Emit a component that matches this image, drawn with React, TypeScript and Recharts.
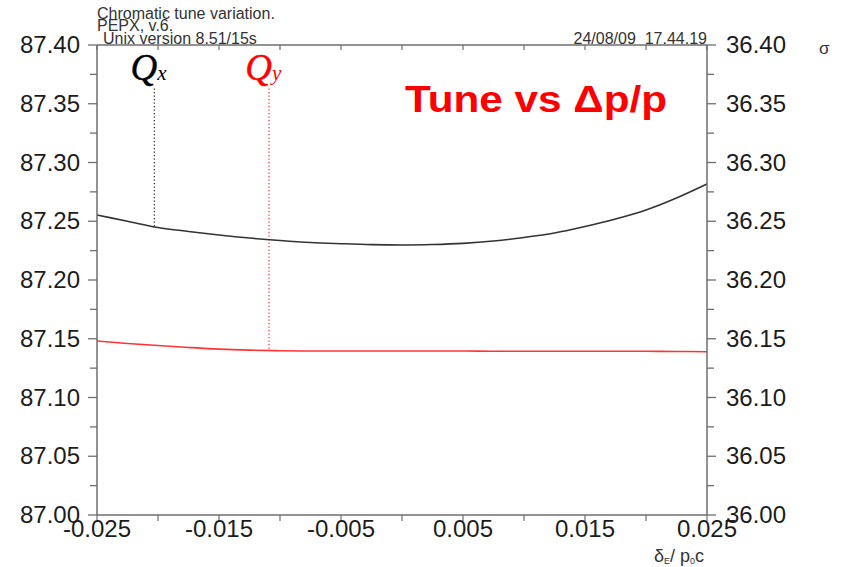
import React from "react";
import { LineChart, Line, XAxis, YAxis, ReferenceLine } from "recharts";

// momentum deviation, 0.0025 steps
const DP = [
  -0.025, -0.0225, -0.02, -0.0175, -0.015, -0.0125, -0.01, -0.0075, -0.005, -0.0025,
  0, 0.0025, 0.005, 0.0075, 0.01, 0.0125, 0.015, 0.0175, 0.02, 0.0225, 0.025,
];
// horizontal tune (left scale)
const QX = [
  87.2553, 87.25, 87.2447, 87.2413, 87.2383, 87.2357, 87.2336, 87.2319, 87.2309, 87.2301,
  87.2298, 87.2302, 87.2312, 87.2332, 87.2362, 87.24, 87.2455, 87.2519, 87.2596, 87.2698, 87.2817,
];
// vertical tune (right scale)
const QY = [
  36.1481, 36.146, 36.1442, 36.1426, 36.1412, 36.1403, 36.1398, 36.1396, 36.1396, 36.1396,
  36.1396, 36.1396, 36.1396, 36.1394, 36.1394, 36.1394, 36.1394, 36.1394, 36.1393, 36.1392, 36.139,
];

const X_TICKS = [-0.025, -0.02, -0.015, -0.01, -0.005, 0, 0.005, 0.01, 0.015, 0.02, 0.025];
const LEFT_TICKS = [
  87.0, 87.025, 87.05, 87.075, 87.1, 87.125, 87.15, 87.175, 87.2,
  87.225, 87.25, 87.275, 87.3, 87.325, 87.35, 87.375, 87.4,
];
const RIGHT_TICKS = [
  36.0, 36.025, 36.05, 36.075, 36.1, 36.125, 36.15, 36.175, 36.2,
  36.225, 36.25, 36.275, 36.3, 36.325, 36.35, 36.375, 36.4,
];

// marker positions for the Qx / Qy working point
const QX_MARK = -0.0203;
const QY_MARK = -0.0109;
const MARK_TOP = 87.363;
const MARK_TOP_R = 36.363;

const data = DP.map((dp, i) => ({ dp, qx: QX[i], qy: QY[i] }));

const FONT = '"Liberation Sans", Arial, Helvetica, sans-serif';
const AXIS = "#6e6e6e";
const INK = "#1c1c1c";

const LeftTick = (props: any) => {
  const { x, y, payload, index } = props;
  const major = index % 2 === 0;
  return (
    <g>
      <line x1={x} x2={x - (major ? 9 : 7)} y1={y} y2={y} stroke={AXIS} strokeWidth={1.3} />
      {major && (
        <text x={x - 17} y={y + 8} textAnchor="end" fontFamily={FONT} fontSize={24} fill={INK}>
          {payload.value.toFixed(2)}
        </text>
      )}
    </g>
  );
};

const RightTick = (props: any) => {
  const { x, y, payload, index } = props;
  const major = index % 2 === 0;
  return (
    <g>
      <line x1={x} x2={x + (major ? 9 : 7)} y1={y} y2={y} stroke={AXIS} strokeWidth={1.3} />
      {major && (
        <text x={x + 19} y={y + 8} textAnchor="start" fontFamily={FONT} fontSize={24} fill={INK}>
          {payload.value.toFixed(2)}
        </text>
      )}
    </g>
  );
};

const BottomTick = (props: any) => {
  const { x, y, payload, index } = props;
  const labelled = index % 2 === 0;
  return (
    <g>
      <line x1={x} x2={x} y1={y} y2={y + 6} stroke={AXIS} strokeWidth={1.2} />
      {labelled && (
        <text x={x} y={y + 22} textAnchor="middle" fontFamily={FONT} fontSize={24} fill={INK}>
          {payload.value.toFixed(3)}
        </text>
      )}
    </g>
  );
};

const TopTick = (props: any) => {
  const { x, y } = props;
  return <line x1={x} x2={x} y1={y} y2={y + 5} stroke={AXIS} strokeWidth={1.2} />;
};

const qLabel = (sub: string, color: string) => (props: any) => {
  const vb = props.viewBox;
  return (
    <g>
      <text
        x={vb.x + 3}
        y={vb.y - 8}
        textAnchor="end"
        fontFamily='"Liberation Serif", "Times New Roman", serif'
        fontStyle="italic"
        fontSize={37}
        fill={color}
        stroke={color}
        strokeWidth={0.4}
      >
        Q
      </text>
      <text
        x={vb.x + 3}
        y={vb.y - 8}
        fontFamily='"Liberation Serif", "Times New Roman", serif'
        fontStyle="italic"
        fontSize={21}
        fill={color}
      >
        {sub}
      </text>
    </g>
  );
};

export default function App() {
  return (
    <div style={{ position: "absolute", left: 0, top: 0, width: 842, height: 567, background: "#fff" }}>
      <LineChart width={842} height={567} data={data} margin={{ top: 0, right: 0, bottom: 0, left: 0 }}>
        <XAxis
          dataKey="dp"
          type="number"
          domain={[-0.025, 0.025]}
          ticks={X_TICKS}
          interval={0}
          height={52}
          tickSize={0}
          tickMargin={0}
          tickLine={false}
          axisLine={{ stroke: AXIS, strokeWidth: 1.5 }}
          tick={<BottomTick />}
        />
        <XAxis
          xAxisId="top"
          orientation="top"
          dataKey="dp"
          type="number"
          domain={[-0.025, 0.025]}
          ticks={X_TICKS}
          interval={0}
          height={45}
          tickSize={0}
          tickMargin={0}
          tickLine={false}
          axisLine={{ stroke: AXIS, strokeWidth: 1.5 }}
          tick={<TopTick />}
        />
        <YAxis
          yAxisId="left"
          type="number"
          domain={[87.0, 87.4]}
          ticks={LEFT_TICKS}
          interval={0}
          width={97}
          tickSize={0}
          tickMargin={0}
          tickLine={false}
          axisLine={{ stroke: AXIS, strokeWidth: 1.5 }}
          tick={<LeftTick />}
          allowDataOverflow
        />
        <YAxis
          yAxisId="right"
          orientation="right"
          type="number"
          domain={[36.0, 36.4]}
          ticks={RIGHT_TICKS}
          interval={0}
          width={135}
          tickSize={0}
          tickMargin={0}
          tickLine={false}
          axisLine={{ stroke: AXIS, strokeWidth: 1.5 }}
          tick={<RightTick />}
          allowDataOverflow
        />
        <ReferenceLine
          yAxisId="left"
          segment={[
            { x: QX_MARK, y: MARK_TOP },
            { x: QX_MARK, y: 87.2452 },
          ]}
          stroke="#333"
          strokeWidth={1.3}
          strokeDasharray="1.3 2.2"
          label={qLabel("x", "#000")}
        />
        <ReferenceLine
          yAxisId="right"
          segment={[
            { x: QY_MARK, y: MARK_TOP_R },
            { x: QY_MARK, y: 36.1398 },
          ]}
          stroke="#ff3a3a"
          strokeWidth={1.3}
          strokeDasharray="1.3 2.2"
          label={qLabel("y", "#ff0000")}
        />
        <Line
          yAxisId="left"
          dataKey="qx"
          type="monotone"
          stroke="#333"
          strokeWidth={1.6}
          dot={false}
          isAnimationActive={false}
        />
        <Line
          yAxisId="right"
          dataKey="qy"
          type="monotone"
          stroke="#ff3434"
          strokeWidth={1.6}
          dot={false}
          isAnimationActive={false}
        />
      </LineChart>
      <svg
        width={842}
        height={567}
        style={{ position: "absolute", left: 0, top: 0, pointerEvents: "none" }}
      >
        <g fontFamily={FONT} fontSize={16} fill="#333">
          <text x={97} y={19}>Chromatic tune variation.</text>
          <text x={97} y={31}>PEPX, v.6.</text>
          <text x={103} y={44}>Unix version 8.51/15s</text>
          <text x={707} y={44} textAnchor="end" style={{ whiteSpace: "pre" }}>
            24/08/09  17.44.19
          </text>
          <text x={819} y={54} fontSize={17}>σ</text>
        </g>
        <text
          x={405}
          y={112}
          fontFamily={FONT}
          fontWeight="bold"
          fontSize={37}
          fill="#ff0000"
          textLength={262}
          lengthAdjust="spacingAndGlyphs"
        >
          Tune vs Δp/p
        </text>
        <text x={654} y={562} fontFamily={FONT} fontSize={18} fill="#333">
          δ<tspan fontSize={9} dy={2}>E</tspan>
          <tspan dy={-2}>/ p</tspan>
          <tspan fontSize={9} dy={2}>0</tspan>
          <tspan dy={-2}>c</tspan>
        </text>
      </svg>
    </div>
  );
}
